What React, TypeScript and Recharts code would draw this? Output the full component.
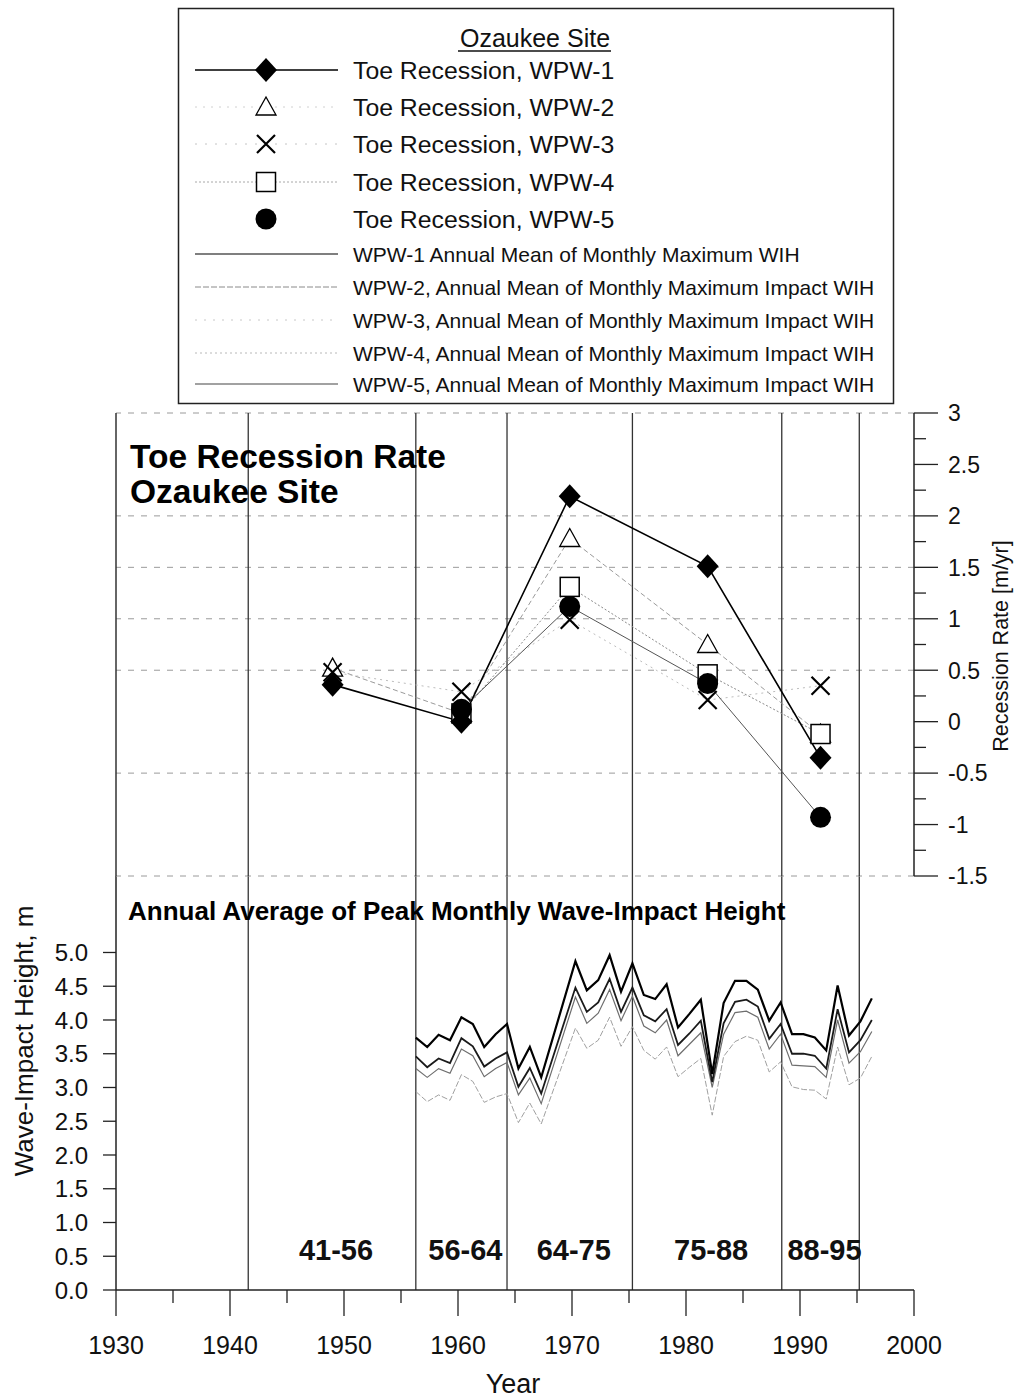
import React from "react";
import { ComposedChart, Line, XAxis, YAxis, ReferenceLine, ReferenceArea } from "recharts";

const FONT = "'Liberation Sans', Arial, Helvetica, sans-serif";

// toe recession, plotted at the middle of each aerial-photo period
const periodMid = [1949, 1960.3, 1969.8, 1981.9, 1991.8];
const toeWpw1 = [0.36, 0.0, 2.19, 1.51, -0.35];
const toeWpw2 = [0.52, 0.08, 1.78, 0.75, -0.12];
const toeWpw3 = [0.48, 0.29, 0.99, 0.21, 0.35];
const toeWpw4 = [null, 0.08, 1.31, 0.46, -0.12];
const toeWpw5 = [null, 0.12, 1.12, 0.37, -0.93];

const periodBounds = [1941.6, 1956.3, 1964.3, 1975.3, 1988.4, 1995.2];
const periodLabels = ["41-56", "56-64", "64-75", "75-88", "88-95"];

// annual mean of monthly max wave-impact height [m]
const wihYears = [
  1956, 1957, 1958, 1959, 1960, 1961, 1962, 1963, 1964, 1965, 1966, 1967,
  1970, 1971, 1972, 1973, 1974, 1975, 1976, 1977, 1978, 1979, 1980, 1981,
  1982, 1983, 1984, 1985, 1986, 1987, 1988, 1989, 1990, 1991, 1992, 1993,
  1994, 1995, 1996,
];
const wihWpw1 = [
  3.74, 3.6, 3.78, 3.7, 4.04, 3.94, 3.6, 3.79, 3.94, 3.28, 3.6, 3.15,
  4.87, 4.44, 4.59, 4.96, 4.42, 4.84, 4.37, 4.31, 4.53, 3.89, 4.09, 4.3,
  3.2, 4.25, 4.58, 4.58, 4.45, 3.99, 4.26, 3.79, 3.79, 3.74, 3.55, 4.51,
  3.77, 3.98, 4.32,
];
const wihWpw5 = [
  3.46, 3.3, 3.43, 3.36, 3.73, 3.61, 3.31, 3.43, 3.52, 3.01, 3.29, 2.91,
  4.48, 4.12, 4.26, 4.61, 4.12, 4.48, 4.07, 3.98, 4.16, 3.63, 3.8, 3.99,
  3.08, 3.95, 4.27, 4.3, 4.2, 3.72, 3.94, 3.5, 3.5, 3.47, 3.28, 4.16,
  3.52, 3.7, 4.0,
];
const wihWpw4 = [
  3.28, 3.15, 3.28, 3.21, 3.57, 3.47, 3.16, 3.28, 3.37, 2.89, 3.14, 2.76,
  4.34, 3.95, 4.1, 4.45, 3.99, 4.35, 3.91, 3.81, 4.0, 3.47, 3.64, 3.81,
  3.0, 3.79, 4.11, 4.13, 4.04, 3.57, 3.79, 3.33, 3.32, 3.31, 3.15, 4.0,
  3.36, 3.53, 3.83,
];
const wihWpw2 = [
  2.94, 2.79, 2.89, 2.81, 3.19, 3.09, 2.78, 2.86, 2.91, 2.48, 2.77, 2.46,
  3.88, 3.58, 3.7, 4.04, 3.61, 3.9, 3.55, 3.42, 3.6, 3.16, 3.3, 3.43,
  2.59, 3.46, 3.68, 3.76, 3.7, 3.23, 3.38, 3.01, 2.97, 2.96, 2.83, 3.6,
  3.04, 3.14, 3.46,
];

const yearTicks = [1930, 1935, 1940, 1945, 1950, 1955, 1960, 1965, 1970, 1975, 1980, 1985, 1990, 1995, 2000];
const rateTicks = [-1.5, -1.25, -1, -0.75, -0.5, -0.25, 0, 0.25, 0.5, 0.75, 1, 1.25, 1.5, 1.75, 2, 2.25, 2.5, 2.75, 3];
const rateGrid = [3, 2, 1.5, 1, 0.5, -0.5, -1.5];
const wihTicks = [0, 0.5, 1, 1.5, 2, 2.5, 3, 3.5, 4, 4.5, 5];

const toeRows = periodMid.map((x, i) => ({
  x,
  w1: toeWpw1[i],
  w2: toeWpw2[i],
  w3: toeWpw3[i],
  w4: toeWpw4[i],
  w5: toeWpw5[i],
}));

// annual values sit a little past the start of the calendar year
const wihRows = wihYears.map((yr, i) => ({
  x: yr + 0.3,
  w1: wihWpw1[i],
  w5: wihWpw5[i],
  w4: wihWpw4[i],
  w2: wihWpw2[i],
}));

type MarkerKind = "diamond" | "triangle" | "cross" | "square" | "circle";

function marker(kind: MarkerKind, cx: number, cy: number, key?: React.Key) {
  switch (kind) {
    case "diamond":
      return <path key={key} d={`M${cx},${cy - 12} L${cx + 11},${cy} L${cx},${cy + 12} L${cx - 11},${cy} Z`} fill="#000" />;
    case "triangle":
      return <path key={key} d={`M${cx},${cy - 10} L${cx + 10},${cy + 8} L${cx - 10},${cy + 8} Z`} fill="#fff" stroke="#000" strokeWidth={1.3} />;
    case "cross":
      return (
        <path key={key} d={`M${cx - 9},${cy - 9} L${cx + 9},${cy + 9} M${cx + 9},${cy - 9} L${cx - 9},${cy + 9}`} stroke="#000" strokeWidth={2.2} fill="none" />
      );
    case "square":
      return <rect key={key} x={cx - 9.5} y={cy - 9.5} width={19} height={19} fill="#fff" stroke="#000" strokeWidth={1.5} />;
    default:
      return <circle key={key} cx={cx} cy={cy} r={10.5} fill="#000" />;
  }
}

const dotFor = (kind: MarkerKind) => (p: any) => {
  if (p.value == null || p.cx == null || p.cy == null || isNaN(p.cy)) return <g key={p.index} />;
  return marker(kind, p.cx, p.cy, p.index);
};

const XTick = (props: any) => {
  const { x, y, payload } = props;
  const major = payload.value % 10 === 0;
  return (
    <g>
      <line x1={x} x2={x} y1={y} y2={y + (major ? 26 : 13)} stroke="#222" strokeWidth={1.3} />
      {major && (
        <text x={x} y={y + 64} textAnchor="middle" fontSize={25} fontFamily={FONT} fill="#111">
          {payload.value}
        </text>
      )}
    </g>
  );
};

const RateTick = (props: any) => {
  const { x, y, payload } = props;
  const v = payload.value as number;
  const major = Math.abs(v * 2 - Math.round(v * 2)) < 1e-6;
  return (
    <g>
      <line x1={x} x2={x + (major ? 24 : 12)} y1={y} y2={y} stroke="#222" strokeWidth={1.3} />
      {major && (
        <text x={x + 34} y={y} dy="0.36em" fontSize={23} fontFamily={FONT} fill="#111">
          {String(v)}
        </text>
      )}
    </g>
  );
};

const toeSeries: { key: string; kind: MarkerKind; stroke: string; width: number; dash?: string }[] = [
  { key: "w2", kind: "triangle", stroke: "#9a9a9a", width: 1, dash: "5 3" },
  { key: "w3", kind: "cross", stroke: "#bdbdbd", width: 1, dash: "2 4" },
  { key: "w4", kind: "square", stroke: "#8a8a8a", width: 1, dash: "2 2" },
  { key: "w5", kind: "circle", stroke: "#555", width: 1 },
  { key: "w1", kind: "diamond", stroke: "#000", width: 1.6 },
];

const legendRows: { label: string; kind?: MarkerKind; stroke?: string; width?: number; dash?: string; big: boolean }[] = [
  { label: "Toe Recession, WPW-1", kind: "diamond", stroke: "#000", width: 1.3, big: true },
  { label: "Toe Recession, WPW-2", kind: "triangle", stroke: "#d0d0d0", width: 1, dash: "2 6", big: true },
  { label: "Toe Recession, WPW-3", kind: "cross", stroke: "#c4c4c4", width: 1, dash: "2 8", big: true },
  { label: "Toe Recession, WPW-4", kind: "square", stroke: "#a8a8a8", width: 1, dash: "2 2", big: true },
  { label: "Toe Recession, WPW-5", kind: "circle", big: true },
  { label: "WPW-1 Annual Mean of Monthly Maximum WIH", stroke: "#000", width: 1.2, big: false },
  { label: "WPW-2, Annual Mean of Monthly Maximum Impact WIH", stroke: "#8a8a8a", width: 1, dash: "6 2", big: false },
  { label: "WPW-3, Annual Mean of Monthly Maximum Impact WIH", stroke: "#c8c8c8", width: 1, dash: "2 7", big: false },
  { label: "WPW-4, Annual Mean of Monthly Maximum Impact WIH", stroke: "#b8b8b8", width: 1, dash: "2 3", big: false },
  { label: "WPW-5, Annual Mean of Monthly Maximum Impact WIH", stroke: "#444", width: 1.2, big: false },
];
const legendY = [70, 107, 144, 182, 219, 254, 287, 320, 353, 384];

export default function App() {
  return (
    <div style={{ position: "absolute", left: 0, top: 0, width: 1016, height: 1399, background: "#fff" }}>
      {/* wave-impact height panel */}
      <div style={{ position: "absolute", left: 0, top: 0 }}>
        <ComposedChart width={1016} height={1399} data={wihRows} margin={{ top: 876, right: 102, bottom: 29, left: 0 }}>
          <XAxis
            type="number"
            dataKey="x"
            domain={[1930, 2000]}
            ticks={yearTicks}
            interval={0}
            tickSize={0}
            tickMargin={0}
            tick={<XTick />}
            axisLine={{ stroke: "#222", strokeWidth: 1.5 }}
            height={80}
          />
          <YAxis
            type="number"
            domain={[0, 6.133]}
            ticks={wihTicks}
            interval={0}
            width={116}
            tickSize={13}
            tickMargin={15}
            tickFormatter={(v: number) => v.toFixed(1)}
            tick={{ fontSize: 24, fill: "#111", fontFamily: FONT }}
            tickLine={{ stroke: "#222", strokeWidth: 1.3 }}
            axisLine={{ stroke: "#222", strokeWidth: 1.5 }}
          />
          {periodBounds.map((b) => (
            <ReferenceLine key={b} x={b} stroke="#333" strokeWidth={1.3} />
          ))}
          {periodLabels.map((lbl, i) => (
            <ReferenceArea
              key={lbl}
              x1={periodBounds[i]}
              x2={periodBounds[i + 1]}
              y1={0.3}
              y2={0.88}
              fill="none"
              fillOpacity={0}
              stroke="none"
              label={{ value: lbl, position: "center", dx: 4, fontSize: 29, fontWeight: 700, fill: "#111", fontFamily: FONT }}
            />
          ))}
          <Line dataKey="w2" stroke="#a0a0a0" strokeWidth={1} strokeDasharray="6 2" dot={false} isAnimationActive={false} />
          <Line dataKey="w4" stroke="#6e6e6e" strokeWidth={1.2} dot={false} isAnimationActive={false} />
          <Line dataKey="w5" stroke="#1a1a1a" strokeWidth={1.8} dot={false} isAnimationActive={false} />
          <Line dataKey="w1" stroke="#000" strokeWidth={2.2} dot={false} isAnimationActive={false} />
        </ComposedChart>
      </div>

      {/* toe recession panel */}
      <div style={{ position: "absolute", left: 0, top: 0 }}>
        <ComposedChart width={1016} height={1399} data={toeRows} margin={{ top: 413, right: 42, bottom: 523, left: 116 }}>
          <XAxis type="number" dataKey="x" domain={[1930, 2000]} hide allowDataOverflow />
          <YAxis
            type="number"
            orientation="right"
            domain={[-1.5, 3]}
            ticks={rateTicks}
            interval={0}
            width={60}
            tickSize={0}
            tickMargin={0}
            tick={<RateTick />}
            axisLine={{ stroke: "#222", strokeWidth: 1.5 }}
          />
          {rateGrid.map((g) => (
            <ReferenceLine key={g} y={g} stroke="#9a9a9a" strokeWidth={1} strokeDasharray="6 7" />
          ))}
          <ReferenceLine x={1930} stroke="#333" strokeWidth={1.5} />
          {periodBounds.map((b) => (
            <ReferenceLine key={b} x={b} stroke="#333" strokeWidth={1.3} />
          ))}
          {toeSeries.map((s) => (
            <Line
              key={s.key}
              dataKey={s.key}
              stroke={s.stroke}
              strokeWidth={s.width}
              strokeDasharray={s.dash}
              dot={dotFor(s.kind)}
              activeDot={false}
              isAnimationActive={false}
            />
          ))}
        </ComposedChart>
      </div>

      <svg width={1016} height={1399} style={{ position: "absolute", left: 0, top: 0, pointerEvents: "none" }} fontFamily={FONT}>
        <rect x={178.5} y={8.5} width={715} height={395} fill="none" stroke="#222" strokeWidth={1.5} />
        <text x={535} y={47} textAnchor="middle" fontSize={25} fill="#111">
          Ozaukee Site
        </text>
        <line x1={458} x2={611} y1={51} y2={51} stroke="#111" strokeWidth={1.3} />
        {legendRows.map((r, i) => {
          const cy = legendY[i];
          return (
            <g key={r.label}>
              {r.stroke && (
                <line x1={195} x2={338} y1={cy} y2={cy} stroke={r.stroke} strokeWidth={r.width} strokeDasharray={r.dash} />
              )}
              {r.kind && marker(r.kind, 266, cy)}
              <text x={353} y={cy + (r.big ? 8.8 : 7.5)} fontSize={r.big ? 24.8 : 21} fill="#111">
                {r.label}
              </text>
            </g>
          );
        })}

        <text x={130} y={468} fontSize={33.5} fontWeight="bold" fill="#000">
          Toe Recession Rate
        </text>
        <text x={130} y={503} fontSize={33.5} fontWeight="bold" fill="#000">
          Ozaukee Site
        </text>
        <text x={128} y={920} fontSize={26} fontWeight="bold" fill="#000">
          Annual Average of Peak Monthly Wave-Impact Height
        </text>
        <text transform="translate(33,1041) rotate(-90)" textAnchor="middle" fontSize={26} fill="#111">
          Wave-Impact Height, m
        </text>
        <text transform="translate(1008,646) rotate(-90)" textAnchor="middle" fontSize={21.5} fill="#111">
          Recession Rate [m/yr]
        </text>
        <text x={513} y={1393} textAnchor="middle" fontSize={27} fill="#111">
          Year
        </text>
      </svg>
    </div>
  );
}
